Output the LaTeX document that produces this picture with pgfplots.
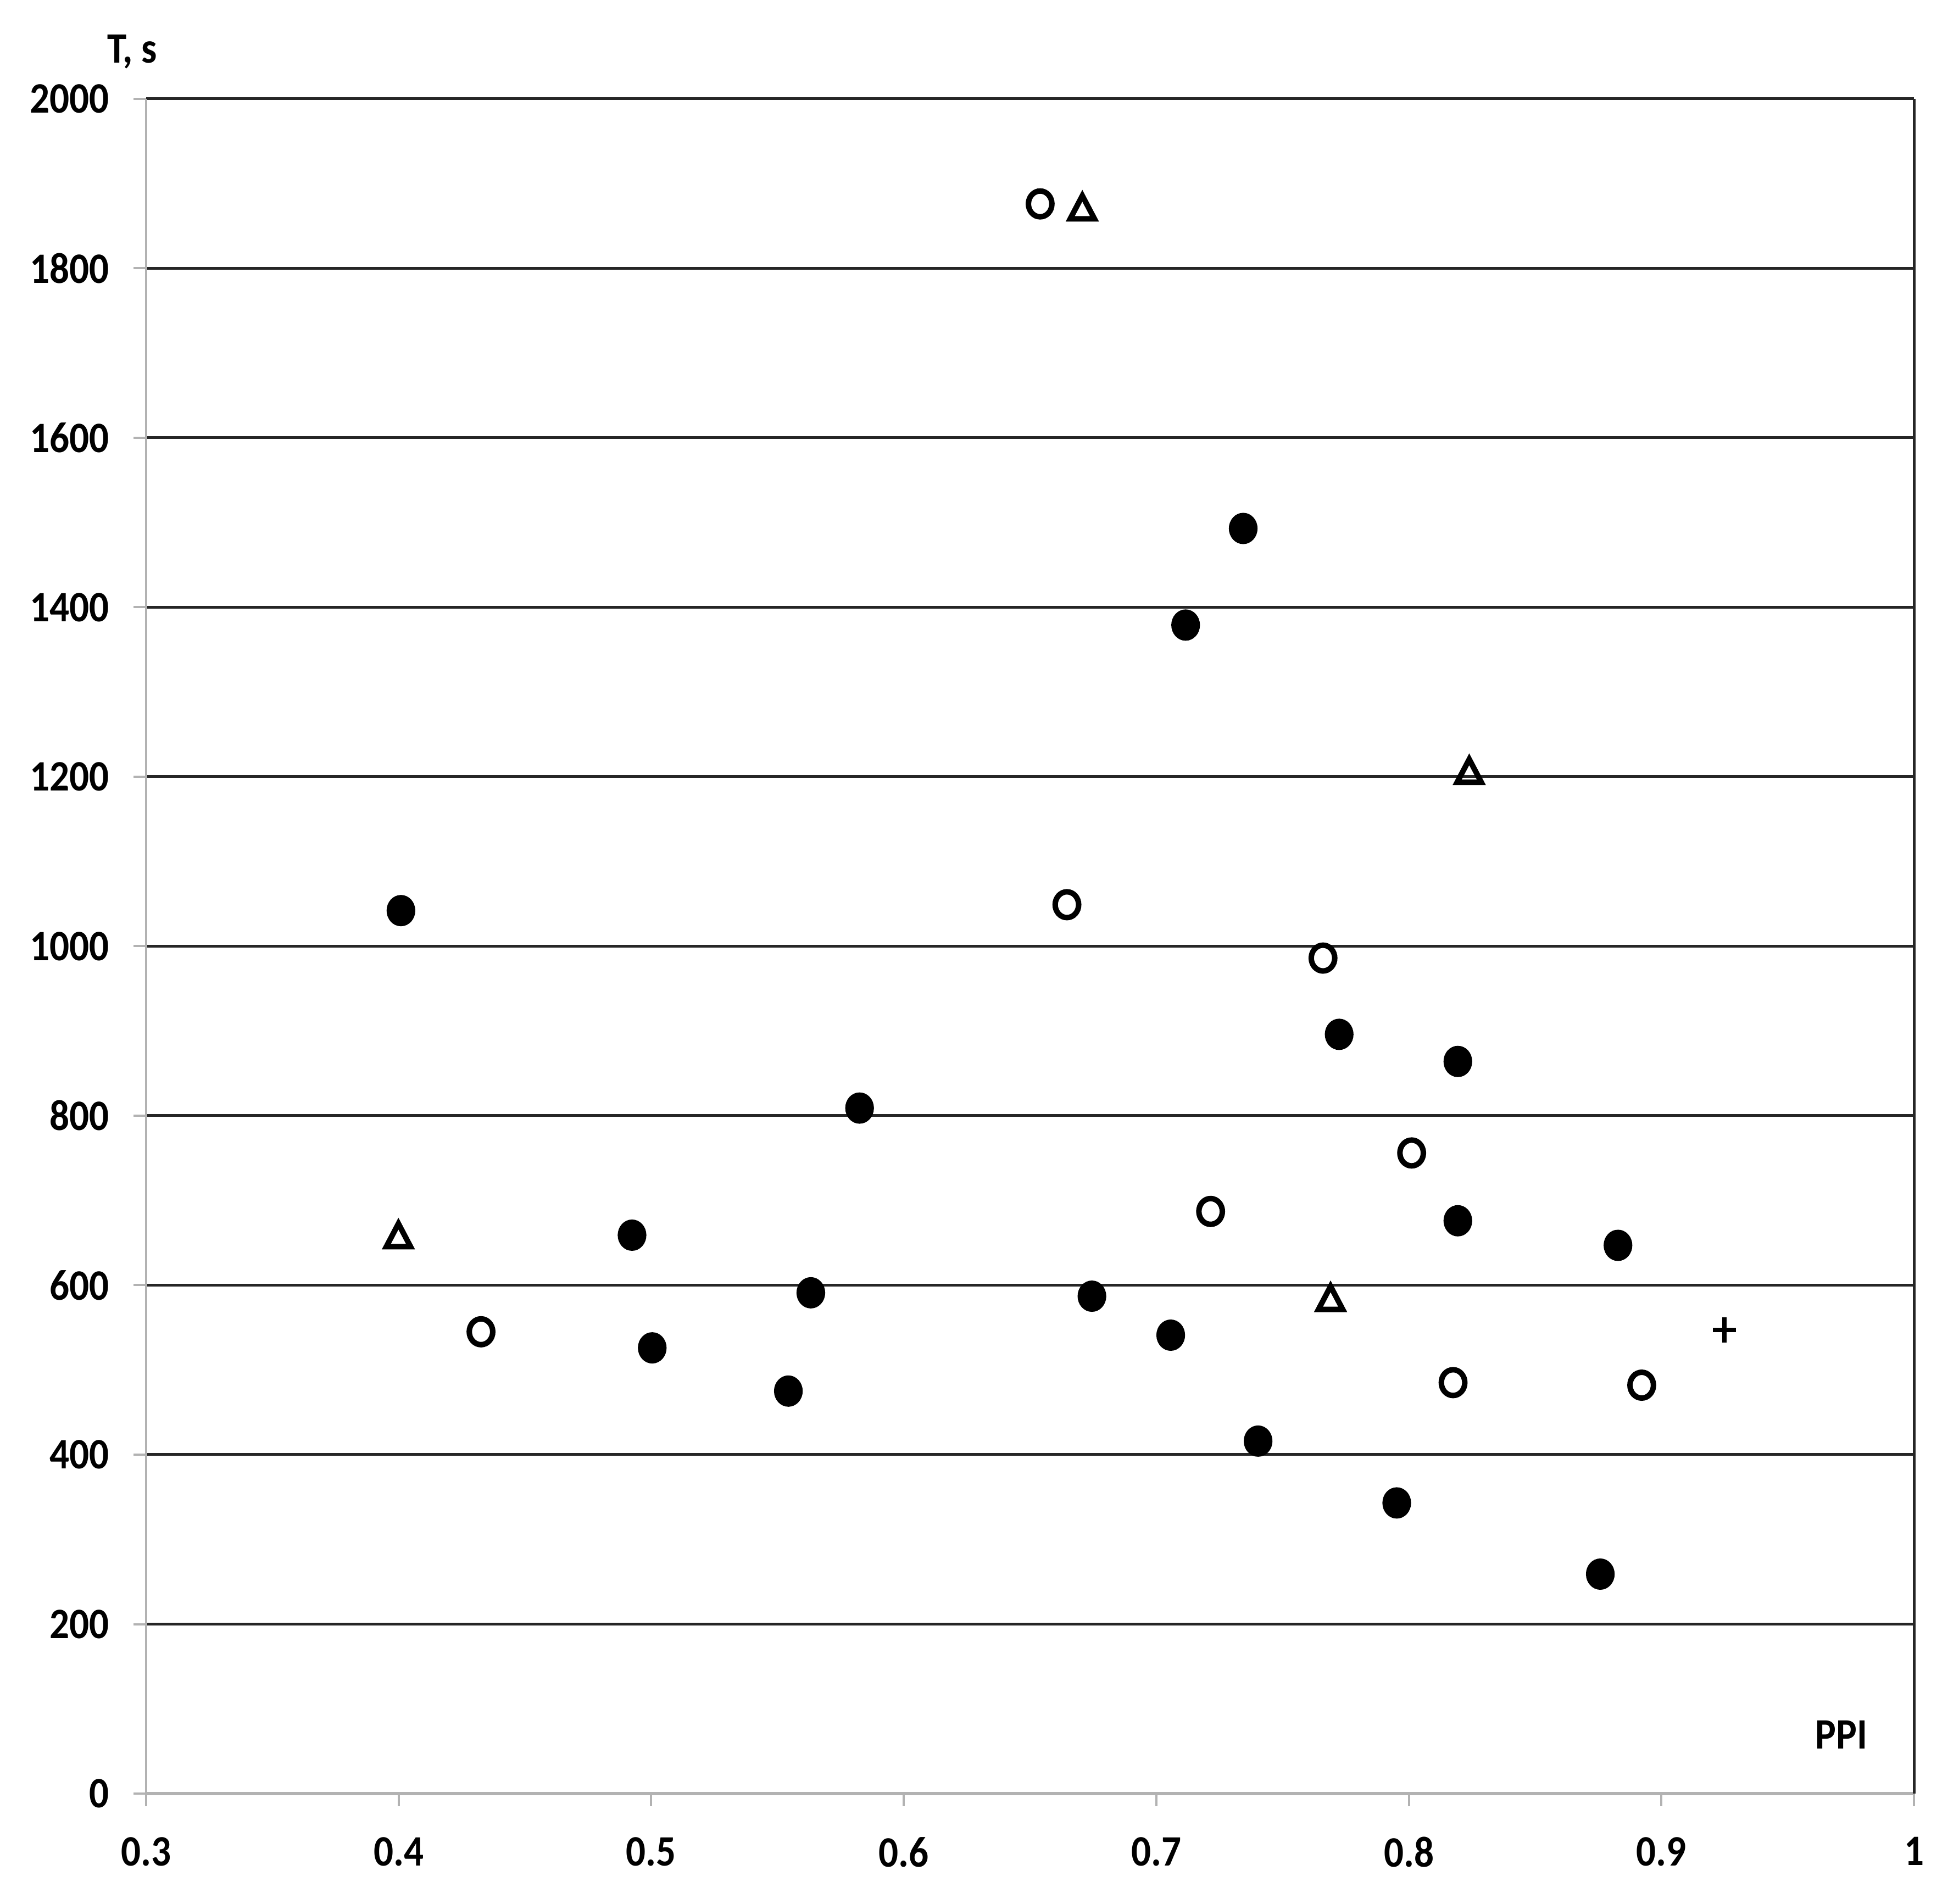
\documentclass[border=0pt]{standalone}
\usepackage{fontspec}
\setmainfont{Carlito}[FakeStretch=0.9]
\usepackage{pgfplots}
\pgfplotsset{compat=1.18}

\begin{document}
\begin{tikzpicture}
\begin{axis}[
  scale only axis,
  width=321.8pt, height=308.5pt,
  xmin=0.3, xmax=1, ymin=0, ymax=2000,
  xtick={0.3,0.4,...,1.0}, ytick={0,200,...,2000},
  xticklabels={0.3,0.4,0.5,0.6,0.7,0.8,0.9,1},
  axis x line*=bottom, axis y line*=left,
  x axis line style={gray!60, line width=0.6pt, -},
  y axis line style={gray!60, line width=0.4pt, -},
  tick align=outside, major tick length=2.3pt,
  tick style={gray!60, line width=0.4pt},
  ymajorgrids, major grid style={black!85, line width=0.5pt},
  extra x ticks={1}, extra x tick labels={},
  extra x tick style={grid=major, major grid style={black!85, line width=0.5pt}},
  /pgf/number format/assume math mode=true,
  /pgf/number format/1000 sep={},
  ticklabel style={font=\bfseries\fontsize{7.9}{9}\selectfont},
  xticklabel style={yshift=-2.1pt},
  yticklabel style={xshift=-0.9pt},
  clip=false,
]
% filled circles
\addplot[only marks, mark=*, mark size=2.65pt, line width=0.4pt,
  mark options={draw=black, fill=black, xscale=0.91}] coordinates {
  (0.4009,1042) (0.4924,659) (0.5004,526) (0.5543,475) (0.5632,591)
  (0.5825,809) (0.6745,587) (0.7057,541) (0.7116,1379) (0.7344,1493)
  (0.7403,416) (0.7724,896) (0.7952,343) (0.8194,864) (0.8194,676)
  (0.8758,259) (0.8828,647)
};
% open circles
\addplot[only marks, mark=o, mark size=2.35pt,
  mark options={draw=black, line width=1pt, xscale=0.91}] coordinates {
  (0.6540,1876) (0.6646,1049) (0.4326,545) (0.7215,687) (0.7660,986)
  (0.8011,756) (0.8175,485) (0.8922,482)
};
% triangles
\addplot[only marks, mark=triangle, mark size=2.8pt,
  mark options={draw=black, line width=1pt, xscale=0.91, yshift=-0.7pt}] coordinates {
  (0.6707,1872) (0.8239,1207) (0.3999,659) (0.7690,585)
};
% plus
\addplot[only marks, mark=+, mark size=2.3pt,
  mark options={draw=black, line width=0.85pt, xscale=0.91}] coordinates {
  (0.925,547)
};
\node[anchor=base east, inner sep=0, font=\bfseries\fontsize{7.9}{9}\selectfont]
  at (axis cs:0.982,53) {PPI};
\node[anchor=base west, inner sep=0, font=\bfseries\fontsize{7.9}{9}\selectfont]
  at ([xshift=-7.3pt, yshift=6.5pt]rel axis cs:0,1) {T, s};
\end{axis}
\path ([shift={(-26.6pt,-20pt)}]current axis.south west)
  rectangle ([shift={(8.2pt,18pt)}]current axis.north east);
\end{tikzpicture}
\end{document}
